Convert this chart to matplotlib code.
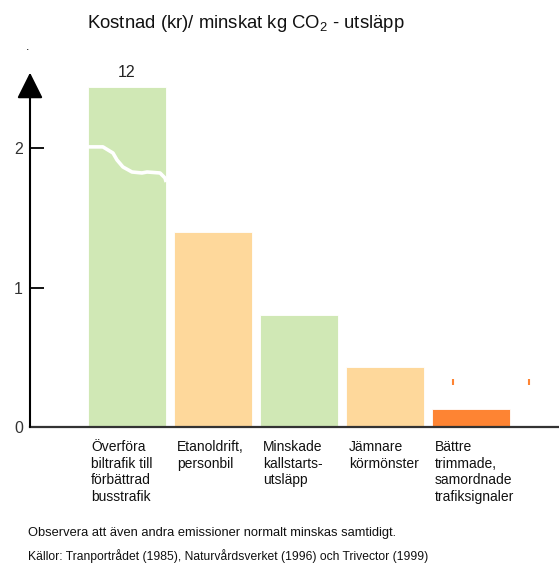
import matplotlib
matplotlib.use("Agg")
import matplotlib.pyplot as plt
import numpy as np

plt.rcParams["font.family"] = ["Liberation Sans", "DejaVu Sans"]
plt.rcParams["mathtext.fontset"] = "custom"
plt.rcParams["mathtext.rm"] = "Liberation Sans"
plt.rcParams["mathtext.it"] = "Liberation Sans:italic"

# --- data -------------------------------------------------------------
categories = [
    "Överföra\nbiltrafik till\nförbättrad\nbusstrafik",
    "Etanoldrift,\npersonbil",
    "Minskade\nkallstarts-\nutsläpp",
    "Jämnare\nkörmönster",
    "Bättre\ntrimmade,\nsamordnade\ntrafiksignaler",
]
values = [12, 1.4, 0.8, 0.43, 0.13]          # kr per kg CO2 reduced
value_labels = ["12", "", "", "", ""]
yticks = [0, 1, 2]
axis_cap = 2.44                                # bars taller than this are cut
# white break line across the truncated bar (x offset within bar, y value)
break_x = [-0.455, -0.28, -0.163, -0.116, -0.047, 0.058, 0.174, 0.233, 0.384, 0.442, 0.455]
break_y = [2.008, 2.008, 1.964, 1.914, 1.864, 1.828, 1.821, 1.828, 1.821, 1.785, 1.756]
# small uncertainty marks above the last bar
mark_x = [3.79, 4.67]
mark_y = [0.32, 0.32]

colors = ["#d0e8b5", "#fed89b", "#d0e8b5", "#fed89b", "#fe8433"]

title = "Kostnad (kr)/ minskat kg CO$_2$ - utsläpp"
note = "Observera att även andra emissioner normalt minskas samtidigt."
source = "Källor: Tranportrådet (1985), Naturvårdsverket (1996) och Trivector (1999)"

# --- figure -----------------------------------------------------------
W, H = 559, 567
fig = plt.figure(figsize=(W / 100, H / 100), dpi=100)

unit_px = 139.5
y0_px = 427
ytop = 2.6
ax = fig.add_axes([30 / W, 1 - y0_px / H, (W - 30) / W, ytop * unit_px / H])
ax.set_xlim((30 - 127) / 86, (559 - 127) / 86)
ax.set_ylim(0, ytop)
ax.patch.set_alpha(0)

x = np.arange(len(categories))
shown = np.minimum(values, axis_cap)
bars = ax.bar(x, shown, width=0.907, color=colors, edgecolor="white",
              linewidth=0.6, zorder=2)

# break on the truncated bar
for i, v in enumerate(values):
    if v > axis_cap:
        ax.plot(x[i] + np.array(break_x), break_y, color="white", lw=2.6,
                solid_capstyle="butt", zorder=3)

for i, lab in enumerate(value_labels):
    if lab:
        ax.text(x[i], shown[i] + 0.045, lab, ha="center", va="bottom",
                fontsize=11.5, color="#222222")

ax.plot(mark_x, mark_y, linestyle="none", marker="|", markersize=4,
        markeredgewidth=1.5, color="#fe8433")

# axes styling
for s in ["top", "right", "left"]:
    ax.spines[s].set_visible(False)
ax.spines["bottom"].set_color("#333333")
ax.spines["bottom"].set_linewidth(1.6)
ax.set_xticks([])
ax.set_yticks(yticks)
ax.tick_params(axis="y", direction="in", length=10, width=1.4, pad=5,
               labelsize=11.5, labelcolor="#333333", color="#111111")

# vertical axis with arrow head
ax.annotate("", xy=(0, 2.54), xytext=(0, 0),
            xycoords=("axes fraction", "data"), textcoords=("axes fraction", "data"),
            arrowprops=dict(arrowstyle="-|>,head_length=1.6,head_width=0.8",
                            mutation_scale=10, lw=1.5, color="black",
                            shrinkA=0, shrinkB=0))
fig.text(28 / W, 1 - 47 / H, ".", ha="center", va="center", fontsize=9)

# category labels under each bar
for i, lab in enumerate(categories):
    ax.text(x[i] - 0.42, -0.09, lab, ha="left", va="top", fontsize=10,
            linespacing=1.27, color="#111111")

fig.text(246 / W, 1 - 23 / H, title, ha="center", va="center", fontsize=13.3,
         color="#111111")
fig.text(28 / W, 1 - 533 / H, note, ha="left", va="center", fontsize=9.3,
         color="#111111")
fig.text(28 / W, 1 - 556 / H, source, ha="left", va="center", fontsize=8.7,
         color="#111111")

fig.savefig("out.png", dpi=100)
